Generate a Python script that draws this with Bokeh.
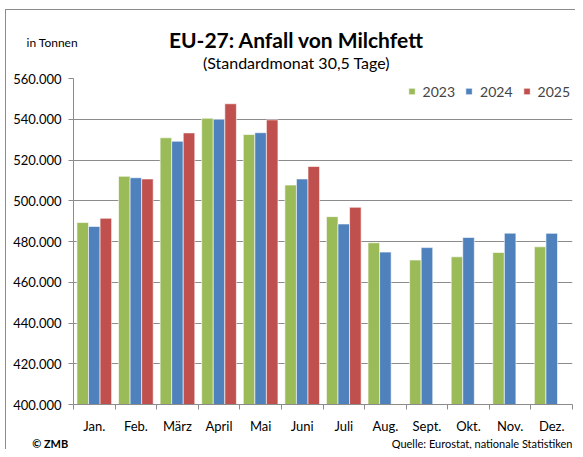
from bokeh.plotting import figure
from bokeh.layouts import column
from bokeh.models import (Range1d, FixedTicker, Label, Legend, LegendItem, ColumnDataSource)
from bokeh.embed import file_html
from bokeh.resources import INLINE

# ---- data ----
months = ["Jan.", "Feb.", "März", "April", "Mai", "Juni", "Juli",
          "Aug.", "Sept.", "Okt.", "Nov.", "Dez."]
years = ["2023", "2024", "2025"]
values_2023 = [489300, 512000, 530900, 540500, 532500, 507700, 492200,
               479400, 470900, 472500, 474600, 477400]
values_2024 = [487400, 511300, 529200, 540000, 533400, 510700, 488600,
               474800, 477000, 482000, 484100, 484000]
values_2025 = [491400, 510700, 533300, 547600, 539700, 516800, 496800]
y_ticks = [400000, 420000, 440000, 460000, 480000, 500000, 520000, 540000, 560000]

title_text = "EU-27: Anfall von Milchfett"
subtitle_text = "(Standardmonat 30,5 Tage)"
unit_text = "in Tonnen"
copyright_text = "© ZMB"
source_text = "Quelle: Eurostat, nationale Statistiken"

colors = ["#9BBB59", "#4F81BD", "#C0504D"]
FONT = "Lato"
GRID = "#8c8c8c"

W = 575
H_HEAD, H_FOOT = 74, 13
OVERLAP = 8
H_MAIN = 362 + OVERLAP
NCAT = len(months)


def text_panel(h):
    f = figure(width=W, height=h, output_backend="svg", toolbar_location=None,
               x_range=Range1d(0, W), y_range=Range1d(h, 0),
               x_axis_type=None, y_axis_type=None, min_border=0,
               outline_line_color=None, background_fill_alpha=0, border_fill_alpha=0)
    f.frame_align = False
    return f


def add_label(f, text, x, y, size, bold=False, align="left", baseline="middle"):
    f.add_layout(Label(x=x, y=y, text=text, text_font=FONT, text_font_size=size,
                       text_font_style="bold" if bold else "normal",
                       text_align=align, text_baseline=baseline, text_color="black"))


# ---- header ----
head = text_panel(H_HEAD)
add_label(head, title_text, 296, 39, "21px", bold=True, align="center")
add_label(head, subtitle_text, 296, 62, "16px", align="center")
add_label(head, unit_text, 26, 42, "12px")

# ---- main chart ----
p = figure(width=W, height=H_MAIN, output_backend="svg", toolbar_location=None,
           x_range=Range1d(0, NCAT), y_range=Range1d(y_ticks[0], y_ticks[-1]),
           min_border_left=73, min_border_right=3, min_border_top=4 + OVERLAP,
           min_border_bottom=28, outline_line_color=None,
           background_fill_color="white", border_fill_alpha=0)
p.frame_align = False
p.styles = {"margin-top": f"-{OVERLAP}px"}

BW = 0.278
offsets = [-BW, 0.0, BW]
series = [values_2023, values_2024, values_2025]
renderers = []
for vals, off, col in zip(series, offsets, colors):
    src = ColumnDataSource(dict(x=[i + 0.5 + off for i in range(len(vals))], top=vals))
    r = p.vbar(x="x", top="top", bottom=y_ticks[0], width=BW, source=src,
               fill_color=col, line_color="white", line_alpha=0.6, line_width=1)
    renderers.append(r)

p.xaxis.ticker = FixedTicker(ticks=[i + 0.5 for i in range(NCAT)],
                             minor_ticks=list(range(NCAT + 1)))
p.xaxis.major_label_overrides = {i + 0.5: m for i, m in enumerate(months)}
p.xaxis.major_tick_out = 0
p.xaxis.major_tick_in = 0
p.xaxis.minor_tick_out = 5
p.xaxis.minor_tick_in = 0
p.xaxis.minor_tick_line_color = GRID
p.xaxis.axis_line_color = GRID
p.xaxis.major_label_standoff = 8
p.xaxis.major_label_text_font = FONT
p.xaxis.major_label_text_font_size = "13px"
p.xaxis.major_label_text_color = "black"

p.yaxis.ticker = FixedTicker(ticks=y_ticks, minor_ticks=[])
p.yaxis.major_label_overrides = {t: f"{t:,}".replace(",", ".") for t in y_ticks}
p.yaxis.major_tick_out = 5
p.yaxis.major_tick_in = 0
p.yaxis.major_tick_line_color = GRID
p.yaxis.axis_line_color = GRID
p.yaxis.major_label_standoff = 7
p.yaxis.major_label_text_font = FONT
p.yaxis.major_label_text_font_size = "13px"
p.yaxis.major_label_text_color = "black"

p.xgrid.grid_line_color = None
p.ygrid.grid_line_color = GRID
p.ygrid.grid_line_width = 1

legend = Legend(items=[LegendItem(label=y, renderers=[r]) for y, r in zip(years, renderers)],
                orientation="horizontal", location="top_right",
                margin=0, padding=2, spacing=10, label_standoff=7,
                glyph_width=8, glyph_height=8, label_height=22,
                label_text_font=FONT, label_text_font_size="14px",
                background_fill_alpha=0, border_line_alpha=0)
p.add_layout(legend, "center")

# ---- footer ----
foot = text_panel(H_FOOT)
add_label(foot, copyright_text, 31.7, 7, "11px", bold=True)
add_label(foot, source_text, 572, 7, "11px", align="right")

layout = column(head, p, foot, spacing=0)
layout.styles = {
    "background-image": "linear-gradient(#8c8c8c, #8c8c8c), linear-gradient(#8c8c8c, #8c8c8c)",
    "background-size": "100% 1px, 1px 100%",
    "background-position": "5px 9px, 5px 9px",
    "background-repeat": "no-repeat",
}

open("out.html", "w").write(file_html(layout, INLINE))
